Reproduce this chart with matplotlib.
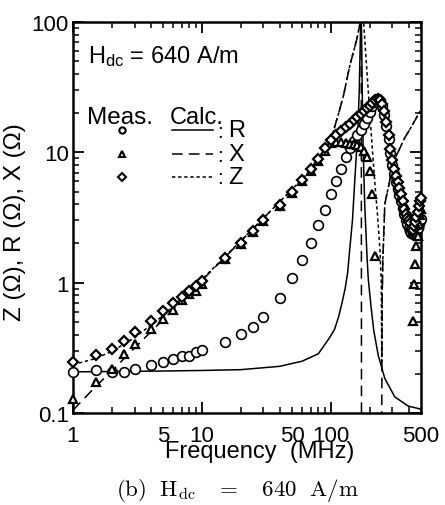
import matplotlib
matplotlib.use('Agg')
import matplotlib.pyplot as plt
import numpy as np
from matplotlib.lines import Line2D
from matplotlib.ticker import FixedLocator, FuncFormatter, NullFormatter

plt.rcParams['font.family'] = ['Liberation Sans', 'DejaVu Sans']
plt.rcParams['mathtext.default'] = 'regular'

nan = np.nan

f_meas = [1, 1.5, 2, 2.5, 3, 4, 5, 6, 7, 8, 9, 10, 15, 20, 25, 30, 40, 50, 60, 70, 80, 90,
          100, 110, 120, 130, 140, 150, 160, 170, 180, 190,
          200, 210, 220, 230, 240, 250, 260, 270, 280, 290,
          300, 310, 320, 330, 340, 350, 360, 370, 380, 390,
          400, 410, 420, 430, 440, 450, 460, 470, 480, 490, 500]

R_meas = [0.207, 0.214, 0.205, 0.205, 0.217, 0.234, 0.245, 0.259, 0.272, 0.275, 0.295, 0.306,
          0.352, 0.403, 0.459, 0.547, 0.76, 1.077, 1.49, 2.02, 2.76, 3.61,
          4.8, 6.0, 7.4, 9.2, 10.8, 12.2, 13.5, 14.8, 16.5, 18.5,
          20.5, 22.5, 24.5, 25.5, 24.6, 22.5, 19.5, 15.8, 12.6, 9.8,
          8.0, 6.8, 5.9, 5.2, 4.7, 4.2, 3.75, 3.35, 3.0, 2.8,
          2.65, 2.5, 2.4, 2.35, 2.4, 2.45, 2.55, 2.65, 2.8, 2.95, 3.1]

X_meas = [0.128, 0.172, 0.217, 0.283, 0.338, 0.44, 0.525, 0.62, 0.74, 0.82, 0.865, 0.975,
          1.51, 1.97, 2.43, 2.98, 3.85, 4.9, 6.0, 7.2, 8.6, 10.2,
          11.8, 12.0, 12.0, 11.8, 11.6, 11.5, 11.3, 11.0, 10.3, 9.2,
          7.2, 4.8, 1.6, nan, nan, nan, nan, nan, nan, nan,
          nan, nan, nan, nan, nan, nan, nan, nan, nan, nan,
          nan, nan, nan, 0.51, 0.98, 1.39, 1.9, 2.3, 2.8, 3.3, 3.7]

Z_meas = [0.245, 0.28, 0.309, 0.358, 0.415, 0.51, 0.601, 0.697, 0.78, 0.865, 0.935, 1.03,
          1.55, 2.01, 2.48, 3.03, 3.95, 5.0, 6.15, 7.4, 8.9, 10.8,
          12.5, 13.6, 14.5, 15.6, 16.6, 17.7, 18.7, 19.7, 20.7, 21.7,
          22.8, 24.0, 25.2, 25.6, 25.2, 23.5, 20.8, 17.0, 13.6, 10.6,
          8.8, 7.5, 6.6, 5.9, 5.3, 4.75, 4.2, 3.7, 3.35, 3.15,
          3.0, 2.85, 2.6, 2.55, 2.7, 2.9, 3.2, 3.5, 3.85, 4.2, 4.5]

# ---------------- calculated curves ----------------
f_R_calc = [1, 2, 5, 10, 20, 40, 60, 80, 98, 107, 115, 122, 129, 135, 140, 147, 153, 158,
            162, 166, 169, 171, 173, 175, 178, 183, 191, 195, 205, 215, 233, 262, 313, 398, 500]
R_calc = [0.207, 0.208, 0.21, 0.212, 0.215, 0.228, 0.25, 0.285, 0.38, 0.44, 0.55, 0.7, 0.9,
          1.2, 1.8, 3.0, 5.9, 10, 15, 30, 70, 130, 80, 30, 10.6, 4.0, 1.53, 1.07, 0.65,
          0.43, 0.277, 0.184, 0.133, 0.113, 0.107]

f_X_calc = [1, 1.5, 2, 3, 5, 10, 20, 50, 80, 100, 115, 125, 140, 159, 168, 172, 173,
            210, 246, 250, 253, 262, 290, 323, 375, 410, 490, 500]
X_calc = [0.105, 0.16, 0.21, 0.315, 0.52, 1.04, 2.08, 5.2, 8.4, 12.5, 20, 27, 46, 74, 97,
          200, 0.01, nan, 0.01, 0.8, 1.5, 4.0, 6.5, 9.5, 13, 15, 20.5, 21]

f_Z_calc = [1, 1.5, 2, 3, 5, 10, 20, 50, 80, 100, 115, 125, 140, 159, 168, 172, 176, 181,
            200, 219, 230, 240, 246, 248, 250, 253, 262, 290, 323, 375, 410, 490, 500]
Z_calc = [0.235, 0.262, 0.297, 0.378, 0.56, 1.06, 2.09, 5.2, 8.4, 12.5, 20, 27, 46, 74, 97,
          200, 130, 88, 20.3, 5.9, 3.3, 1.82, 1.0, 0.25, 0.8, 1.5, 4.0, 6.5, 9.5, 13, 15,
          20.5, 21]

x_major = [1, 10, 100]
x_minor = [2, 3, 4, 5, 6, 7, 8, 9, 20, 30, 40, 50, 60, 70, 80, 90, 200, 300, 400, 500]
x_minor_labels = {5: '5', 50: '50', 500: '500'}
y_major = [0.1, 1, 10, 100]
y_major_labels = ['0.1', '1', '10', '100']

W, H = 445, 506
fig = plt.figure(figsize=(W / 100, H / 100), dpi=100)
ax = fig.add_axes([73 / W, (H - 414) / H, 348 / W, 391 / H])
ax.set_xscale('log')
ax.set_yscale('log')
ax.set_xlim(1, 500)
ax.set_ylim(0.1, 100)

lw = 1.1
ax.plot(f_R_calc, R_calc, '-', color='black', lw=lw, zorder=2)
ax.plot(f_X_calc, X_calc, color='black', lw=lw, dashes=(7, 4), zorder=2)
ax.plot(f_Z_calc, Z_calc, color='black', lw=lw, dashes=(2.2, 1.8), zorder=2)

ax.plot(f_meas, R_meas, 'o', ms=7, mfc='white', mec='black', mew=1.2, clip_on=False, zorder=3)
ax.plot(f_meas, X_meas, '^', ms=6, mfc='white', mec='black', mew=1.6, clip_on=False, zorder=3)
ax.plot(f_meas, Z_meas, 'D', ms=5, mfc='white', mec='black', mew=1.6, clip_on=False, zorder=3)

for s in ax.spines.values():
    s.set_linewidth(1.8)

ax.xaxis.set_major_locator(FixedLocator(x_major))
ax.xaxis.set_minor_locator(FixedLocator(x_minor))
ax.xaxis.set_major_formatter(FuncFormatter(lambda v, p: '%g' % v))
ax.xaxis.set_minor_formatter(FuncFormatter(lambda v, p: x_minor_labels.get(int(round(v)), '')))
ax.yaxis.set_major_locator(FixedLocator(y_major))
ax.yaxis.set_major_formatter(FuncFormatter(lambda v, p: y_major_labels[p] if p is not None and p < len(y_major_labels) else '%g' % v))
ax.yaxis.set_minor_locator(FixedLocator([0.2, 0.3, 0.4, 0.5, 0.6, 0.7, 0.8, 0.9,
                                         2, 3, 4, 5, 6, 7, 8, 9, 20, 30, 40, 50, 60, 70, 80, 90]))
ax.yaxis.set_minor_formatter(NullFormatter())

ax.tick_params(which='both', direction='in', top=True, right=True, labelsize=16)
ax.tick_params(which='major', length=8, width=1.3)
ax.tick_params(which='minor', length=4, width=1.1)
ax.tick_params(axis='x', which='both', pad=9)
ax.tick_params(axis='y', which='both', pad=3)

ax.set_xlabel('Frequency  (MHz)', fontsize=17)
ax.xaxis.set_label_coords(0.537, -0.07)
ax.set_ylabel('Z (Ω), R (Ω), X (Ω)', fontsize=17.5)
ax.yaxis.set_label_coords(-0.135, 0.49)


def fx(x):
    return x / W


def fy(y):
    return 1 - y / H


fig.text(fx(88), fy(63), r'H$_{dc}$ = 640 A/m', fontsize=17, va='baseline', ha='left')
fig.text(fx(87), fy(124), 'Meas.', fontsize=17.5, va='baseline', ha='left')
fig.text(fx(170), fy(124), 'Calc.', fontsize=17, va='baseline', ha='left')

rows = [(131, 'o', 'R', None), (155, '^', 'X', (7, 4)), (178, 'D', 'Z', (2.2, 1.8))]
for y, mk, lab, dash in rows:
    fig.add_artist(Line2D([fx(122)], [fy(y)], marker=mk, ms=4.5 if mk != 'D' else 3.8,
                          mfc='white', mec='black', mew=1.5, transform=fig.transFigure))
    ln = Line2D([fx(172), fx(213)], [fy(y), fy(y)], color='black', lw=lw, transform=fig.transFigure)
    if dash is not None:
        ln.set_dashes(dash)
    fig.add_artist(ln)
    fig.text(fx(217), fy(y + 1), ':', fontsize=15, va='center', ha='left')
    fig.text(fx(228), fy(y), lab, fontsize=17, va='center', ha='left')

fig.text(fx(237), fy(491), r'$\mathrm{(b)\ \ H_{dc}\ \ \ =\ \ \ 640\ \ A/m}$', fontsize=16.5,
         ha='center', va='center', math_fontfamily='cm')

fig.savefig('out.png', dpi=100)
